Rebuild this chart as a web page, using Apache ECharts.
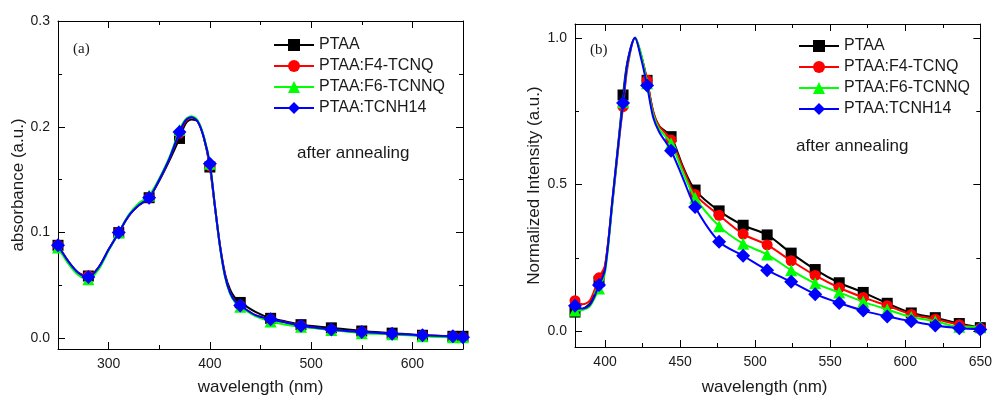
<!DOCTYPE html>
<html><head><meta charset="utf-8">
<script src="https://cdn.jsdelivr.net/npm/echarts@6/dist/echarts.min.js"></script>
<style>html,body{margin:0;padding:0;background:#fff}#c{width:995px;height:401px}</style>
</head><body><div id="c"></div>
<script>
// ---------- shared ----------
const seriesNames = ['PTAA', 'PTAA:F4-TCNQ', 'PTAA:F6-TCNNQ', 'PTAA:TCNH14'];
const colors = ['#000000', '#ff0000', '#00ff00', '#0000ff'];
const symbols = ['rect', 'circle', 'triangle', 'diamond'];
const symbolSizes = [11, 11, 12, 14];

// ---------- panel (a): absorbance ----------
const absWavelength = [250, 260, 270, 280, 290, 300, 310, 320, 330, 340, 350, 360, 370, 376, 382, 388, 394, 400, 405, 410, 415, 420, 425, 430, 445, 460, 475, 490, 520, 550, 580, 610, 640, 650];
const absMarkerWavelength = [250, 280, 310, 340, 370, 400, 430, 460, 490, 520, 550, 580, 610, 640, 650];
const absPTAA   = [0.088, 0.073, 0.062, 0.059, 0.067, 0.084, 0.100, 0.116, 0.126, 0.133, 0.149, 0.168, 0.189, 0.203, 0.207, 0.205, 0.190, 0.162, 0.124, 0.088, 0.061, 0.046, 0.038, 0.034, 0.025, 0.019, 0.016, 0.013, 0.010, 0.007, 0.005, 0.003, 0.002, 0.002];
const absF4     = [0.088, 0.073, 0.062, 0.059, 0.067, 0.084, 0.100, 0.116, 0.126, 0.133, 0.150, 0.170, 0.194, 0.205, 0.209, 0.205, 0.190, 0.163, 0.125, 0.087, 0.059, 0.043, 0.035, 0.031, 0.022, 0.018, 0.015, 0.012, 0.008, 0.006, 0.004, 0.003, 0.002, 0.001];
const absF6     = [0.086, 0.071, 0.060, 0.056, 0.065, 0.083, 0.100, 0.117, 0.128, 0.135, 0.151, 0.171, 0.197, 0.207, 0.210, 0.206, 0.191, 0.165, 0.125, 0.086, 0.058, 0.042, 0.034, 0.030, 0.021, 0.016, 0.013, 0.011, 0.008, 0.005, 0.004, 0.002, 0.001, 0.001];
const absTCNH14 = [0.088, 0.073, 0.062, 0.058, 0.067, 0.084, 0.100, 0.116, 0.126, 0.133, 0.150, 0.170, 0.195, 0.206, 0.209, 0.205, 0.190, 0.165, 0.125, 0.087, 0.059, 0.043, 0.035, 0.031, 0.022, 0.018, 0.015, 0.012, 0.0085, 0.006, 0.0045, 0.003, 0.002, 0.001];

// ---------- panel (b): normalized PL ----------
const plWavelength = [380, 385, 390, 396, 400, 405, 410, 412, 415, 420, 424, 428, 432, 436, 444, 452, 460, 476, 492, 508, 524, 540, 556, 572, 588, 604, 620, 636, 650];
const plMarkerWavelength = [380, 396, 412, 428, 444, 460, 476, 492, 508, 524, 540, 556, 572, 588, 604, 620, 636, 650];
const plPTAA   = [0.065, 0.075, 0.095, 0.170, 0.220, 0.450, 0.700, 0.805, 0.920, 1.000, 0.940, 0.855, 0.750, 0.700, 0.663, 0.560, 0.481, 0.410, 0.361, 0.328, 0.266, 0.210, 0.165, 0.132, 0.095, 0.062, 0.046, 0.026, 0.012];
const plF4     = [0.104, 0.092, 0.105, 0.182, 0.225, 0.440, 0.680, 0.765, 0.900, 1.000, 0.940, 0.855, 0.750, 0.700, 0.652, 0.555, 0.466, 0.395, 0.331, 0.294, 0.240, 0.190, 0.148, 0.115, 0.087, 0.057, 0.041, 0.022, 0.010];
const plF6     = [0.070, 0.072, 0.085, 0.145, 0.200, 0.440, 0.690, 0.780, 0.910, 1.000, 0.945, 0.845, 0.740, 0.690, 0.640, 0.540, 0.455, 0.358, 0.298, 0.261, 0.208, 0.163, 0.132, 0.100, 0.074, 0.048, 0.034, 0.015, 0.015];
const plTCNH14 = [0.087, 0.077, 0.090, 0.157, 0.210, 0.450, 0.690, 0.778, 0.915, 1.000, 0.930, 0.837, 0.730, 0.680, 0.615, 0.520, 0.423, 0.305, 0.257, 0.208, 0.168, 0.126, 0.096, 0.070, 0.050, 0.034, 0.019, 0.010, 0.006];

const absSeries = [absPTAA, absF4, absF6, absTCNH14];
const plSeries = [plPTAA, plF4, plF6, plTCNH14];

const FONT = 'Liberation Sans';
const TXT = '#1a1a1a';

function buildData(xs, ys, markers) {
  const set = new Set(markers);
  return xs.map((x, i) => set.has(x) ? { value: [x, ys[i]] } : { value: [x, ys[i]], symbol: 'none' });
}

const series = [];
[[absWavelength, absSeries, absMarkerWavelength, 0, 0], [plWavelength, plSeries, plMarkerWavelength, 2, 2]].forEach(([xs, ysList, markers, xi, yi]) => {
  ysList.forEach((ys, k) => {
    series.push({
      name: seriesNames[k], type: 'line', xAxisIndex: xi, yAxisIndex: yi,
      data: buildData(xs, ys, markers),
      smooth: 0.3,
      symbol: symbols[k], symbolSize: symbolSizes[k],
      showSymbol: true, showAllSymbol: true,
      lineStyle: { color: colors[k], width: 2 },
      itemStyle: { color: colors[k] },
      emphasis: { disabled: true }, animation: false, z: 2 + k
    });
  });
});

const tickIn = { show: true, inside: true, length: 7, lineStyle: { color: '#000', width: 1 } };
const minorIn = { show: true, splitNumber: 2, length: 4, lineStyle: { color: '#000', width: 1 } };
const axisLine = { show: true, onZero: false, lineStyle: { color: '#000', width: 1 } };
const labelStyle = { color: TXT, fontFamily: FONT, fontSize: 14 };
const nameStyle = { color: TXT, fontFamily: FONT, fontSize: 17 };

function xPair(grid, min, max, split, nameGap, namePad, showMax) {
  return [
    { type: 'value', gridIndex: grid, position: 'bottom', min, max, splitNumber: split,
      axisLine, axisTick: tickIn, minorTick: minorIn, splitLine: { show: false },
      axisLabel: Object.assign({ margin: 8, showMinLabel: false, showMaxLabel: showMax }, labelStyle),
      name: 'wavelength (nm)', nameLocation: 'middle', nameGap, nameTextStyle: Object.assign({ padding: namePad }, nameStyle) },
    { type: 'value', gridIndex: grid, position: 'top', min, max, splitNumber: split,
      axisLine, axisTick: tickIn, minorTick: minorIn, splitLine: { show: false }, axisLabel: { show: false } }
  ];
}
function yPair(grid, min, max, split, name, nameGap) {
  return [
    { type: 'value', gridIndex: grid, position: 'left', min, max, splitNumber: split,
      axisLine, axisTick: tickIn, minorTick: minorIn, splitLine: { show: false },
      axisLabel: Object.assign({ margin: 8, showMinLabel: false, showMaxLabel: max > 1.01 ? false : true, formatter: v => v.toFixed(1) }, labelStyle),
      name, nameLocation: 'middle', nameGap, nameTextStyle: nameStyle },
    { type: 'value', gridIndex: grid, position: 'right', min, max, splitNumber: split,
      axisLine, axisTick: tickIn, minorTick: minorIn, splitLine: { show: false }, axisLabel: { show: false } }
  ];
}

const legendBase = {
  orient: 'vertical', itemWidth: 40, itemHeight: 15, itemGap: 5,
  textStyle: { color: TXT, fontFamily: FONT, fontSize: 16, lineHeight: 16 },
  data: seriesNames, selectedMode: false
};

const option = {
  backgroundColor: '#fff',
  animation: false,
  grid: [
    { left: 58, top: 21, width: 405, height: 328 },
    { left: 575, top: 24, width: 406, height: 328 }
  ],
  xAxis: [...xPair(0, 250, 650, 4, 30, [0, 0, 0, 0], false), ...xPair(1, 380, 650, 5, 32, [0, 26, 0, 0], true)],
  yAxis: [...yPair(0, -0.01, 0.3, 3, 'absorbance (a.u.)', 30), ...yPair(1, -0.054, 1.047, 2, 'Normalized Intensity (a.u.)', 32)],
  legend: [
    Object.assign({ left: 268, top: 32 }, legendBase),
    Object.assign({ left: 793, top: 33 }, legendBase)
  ],
  graphic: [
    { type: 'text', left: 73, top: 42, style: { text: '(a)', fill: TXT, font: '15px "Liberation Serif"' } },
    { type: 'text', left: 590, top: 43, style: { text: '(b)', fill: TXT, font: '15px "Liberation Serif"' } },
    { type: 'text', left: 297, top: 145, style: { text: 'after annealing', fill: TXT, font: '17px "Liberation Sans"' } },
    { type: 'text', left: 796, top: 138, style: { text: 'after annealing', fill: TXT, font: '17px "Liberation Sans"' } }
  ],
  series
};

const chart = echarts.init(document.getElementById('c'), null, { renderer: 'canvas' });
chart.setOption(option);
</script>
</body></html>
